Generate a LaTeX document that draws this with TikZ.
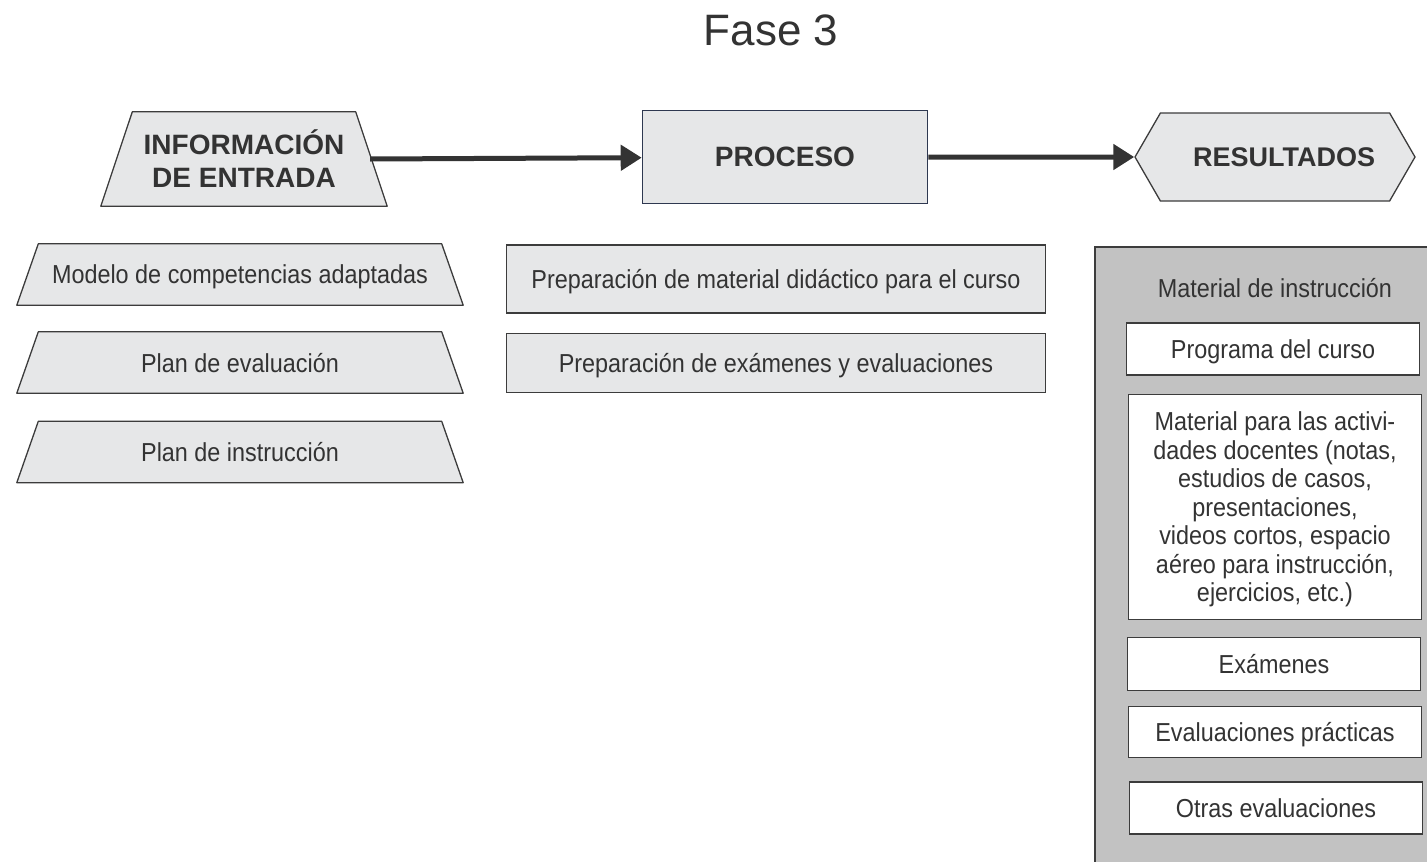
\documentclass[tikz,border=0pt]{standalone}
\usepackage{fontspec}
\setmainfont{Liberation Sans}
\newfontfamily\estrecha{Liberation Sans}[FakeStretch=0.9]
\usetikzlibrary{shapes.symbols,arrows.meta,backgrounds}
\definecolor{relleno}{HTML}{E6E7E8}
\definecolor{borde}{HTML}{3C3C3C}
\definecolor{texto}{HTML}{333333}
\definecolor{panelgris}{HTML}{C2C2C2}
\definecolor{bordeazul}{HTML}{2E3850}

\begin{document}
\begin{tikzpicture}[x=1pt, y=-1pt,
	titulo/.style = {text=texto, font=\fontsize{28}{33}\selectfont\bfseries, align=center},
	cuerpo/.style = {text=texto, font=\estrecha\fontsize{26}{28.5}\selectfont, align=center, text depth=0pt},
	entrada/.style = {rectangle, inner sep=0pt},
	trapecio/.style = {draw=borde, fill=relleno, line width=1.3pt, line join=round},
	procesobox/.style = {rectangle, draw=borde, fill=relleno, line width=1.3pt, minimum width=539, inner sep=0pt},
	salida/.style = {rectangle, draw=borde, fill=white, line width=1.3pt, minimum width=293, inner sep=0pt},
	flecha/.style = {draw=texto, line width=5pt, -{Triangle[length=21pt,width=25pt]}},
]
\useasboundingbox (0,0) rectangle (1427,862);

\node[text=texto, font=\fontsize{44}{50}\selectfont] (fase) at (771,30) {Fase 3};

% cabeceras
\node[entrada, titulo, minimum width=286, minimum height=94] (info) at (244,159) {INFORMACIÓN\\DE ENTRADA};
\node[rectangle, draw=bordeazul, fill=relleno, line width=1.6pt, titulo, minimum width=285, minimum height=93] (proceso) at (785,157) {PROCESO};
\node[signal, signal to=west and east, signal pointer angle=120, draw=borde, fill=relleno, line width=1.3pt, titulo, font=\fontsize{27}{33}\selectfont\bfseries, minimum width=280, minimum height=88, inner sep=0pt] (resultados) at (1275,157) {\hspace{18pt}RESULTADOS};

\draw[flecha] ([xshift=-17]info.east) -- (proceso);
\draw[flecha] (proceso) -- (resultados);

% informacion de entrada
\node[entrada, cuerpo, minimum width=446, minimum height=61] (modelo) at (240,274.5) {Modelo de competencias adaptadas};
\node[entrada, cuerpo, minimum width=446, minimum height=61] (planeval) at (240,362.5) {Plan de evaluación};
\node[entrada, cuerpo, minimum width=446, minimum height=61] (planinst) at (240,452) {Plan de instrucción};

\begin{scope}[on background layer]
\foreach \n/\d in {info/31.5, modelo/21.5, planeval/21.5, planinst/21.5}
	\draw[trapecio] (\n.south west) -- (\n.south east) -- ([xshift=-\d]\n.north east) -- ([xshift=\d]\n.north west) -- cycle;
\end{scope}

% proceso
\node[procesobox, cuerpo, minimum height=68] (prepmat) at (776,279) {Preparación de material didáctico para el curso};
\node[procesobox, cuerpo, minimum height=59] (prepexa) at (776,363) {Preparación de exámenes y evaluaciones};

% resultados
\node[fill=panelgris, anchor=north west, minimum width=345, minimum height=630] (panel) at (1095,247) {};
\draw[borde, line width=1.3pt] (panel.south west) -- (panel.north west) -- (panel.north east);
\node[cuerpo] (matinst) at (1275,288) {Material de instrucción};
\node[salida, cuerpo, minimum height=52] (programa) at (1273,349) {Programa del curso};
\node[salida, cuerpo, minimum height=225] (actividades) at (1275,507) {Material para las activi-\\dades docentes (notas,\\estudios de casos,\\presentaciones,\\videos cortos, espacio\\aéreo para instrucción,\\ejercicios, etc.)};
\node[salida, cuerpo, minimum height=53] (examenes) at (1274,664) {Exámenes};
\node[salida, cuerpo, minimum height=51] (practicas) at (1275,732) {Evaluaciones prácticas};
\node[salida, cuerpo, minimum height=52] (otras) at (1276,808) {Otras evaluaciones};
\end{tikzpicture}
\end{document}
